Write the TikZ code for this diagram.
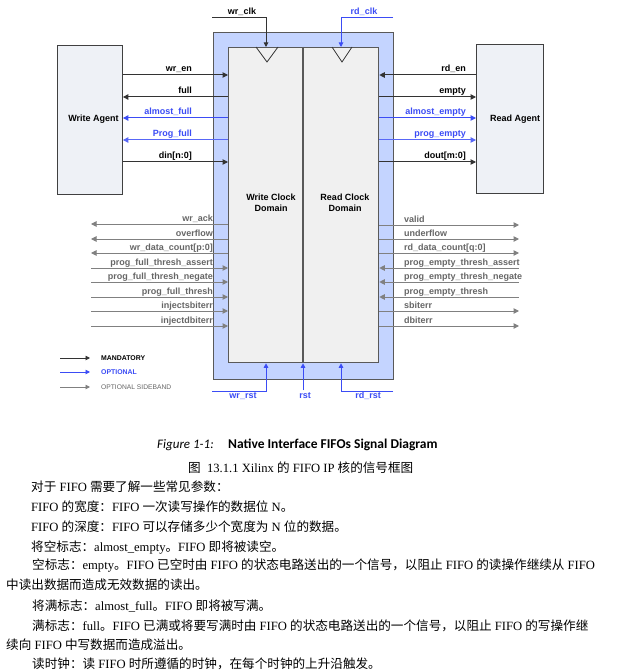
\documentclass[tikz,border=0pt]{standalone}
\usepackage{fontspec}
\setmainfont{Liberation Serif}
\newfontfamily\cjk{Noto Sans CJK SC}
\newfontfamily\arialf{Liberation Sans}
\newfontfamily\calib{Carlito}
\usetikzlibrary{arrows.meta}
\definecolor{blk}{HTML}{333333}
\definecolor{blu}{HTML}{3B4CF5}
\definecolor{gry}{HTML}{808080}
\definecolor{gtxt}{HTML}{666666}
\definecolor{obfill}{HTML}{C4D4FF}
\definecolor{ibfill}{HTML}{F0F0F0}
\definecolor{agfill}{HTML}{EEF1F6}
\newcommand\zh[1]{{\cjk #1}}
\begin{document}
\begin{tikzpicture}[x=1pt,y=-1pt,
  lab/.style={font=\arialf\bfseries\fontsize{9}{11}\selectfont, inner sep=0pt},
  leg/.style={font=\arialf\fontsize{6.7}{8}\selectfont, inner sep=0pt, anchor=west},
  body/.style={font=\fontsize{12.6}{15}\selectfont, inner sep=0pt, anchor=base west},
  sigR/.style={line width=1pt,-{Triangle[length=5.5pt,width=5.5pt]}},
  sigL/.style={line width=1pt,{Triangle[length=5.5pt,width=5.5pt]}-},
  tip/.style={line width=0.9pt,-{Triangle[length=4.5pt,width=4.5pt]}}
]
\useasboundingbox[fill=white] (0,0) rectangle (626,671);

% main boxes
\node[draw=black!65, fill=obfill, line width=0.8pt, minimum width=180pt, minimum height=347pt, anchor=north west, inner sep=0pt] (ob) at (213,32) {};
\node[draw=black!65, fill=ibfill, line width=1.3pt, minimum width=150pt, minimum height=315pt, anchor=north west, inner sep=0pt] (ib) at (228,47) {};
\coordinate (divT) at (303,47);
\coordinate (divB) at (303,362);
\draw[black!65, line width=1.2pt] (divT) -- (divB);
\draw[black!80, line width=0.8pt] (256,47) -- (267,62) -- (278,47);
\draw[black!80, line width=0.8pt] (332,47) -- (342,62) -- (352,47);
\node[lab, align=center] (wdom) at (271,203) {Write Clock\\Domain};
\node[lab, align=center] (rdom) at (345,203) {Read Clock\\Domain};

% agents
\node[draw=black!75, fill=agfill, line width=0.9pt, minimum width=65pt, minimum height=149pt, anchor=north west, inner sep=0pt] (wa) at (57,45) {};
\node[lab] (walab) at (93.5,119) {Write Agent};
\node[draw=black!75, fill=agfill, line width=0.9pt, minimum width=67pt, minimum height=149pt, anchor=north west, inner sep=0pt] (ra) at (476,44) {};
\node[lab] (ralab) at (515,119) {Read Agent};

% top left signals
\foreach \y/\t/\c/\tc/\d [count=\i] in {
  75/wr\_en/blk/black/sigR,
  97/full/blk/black/sigL,
  118/almost\_full/blu/blu/sigL,
  140/Prog\_full/blu!85/blu/sigL,
  162/din[n:0]/blk/black/sigR}{
  \coordinate (LY\i) at (0,\y);
  \draw[\d,\c] (wa.east |- LY\i) -- (ib.west |- LY\i);
  \node[lab, text=\tc, anchor=base east] (LT\i) at (192,\y-3.5) {\t};
}
% top right signals
\foreach \y/\t/\c/\tc/\d [count=\i] in {
  75/rd\_en/blk/black/sigL,
  97/empty/blk/black/sigR,
  118/almost\_empty/blu/blu/sigR,
  140/prog\_empty/blu!85/blu/sigR,
  162/dout[m:0]/blk/black/sigR}{
  \coordinate (RY\i) at (0,\y);
  \draw[\d,\c] (ib.east |- RY\i) -- (ra.west |- RY\i);
  \node[lab, text=\tc, anchor=base east] (RT\i) at (466,\y-3.5) {\t};
}
% bottom left sideband signals
\foreach \y/\t/\d [count=\i] in {
  224/wr\_ack/sigL,
  239/overflow/sigL,
  253/wr\_data\_count[p:0]/sigL,
  268/prog\_full\_thresh\_assert/sigR,
  282/prog\_full\_thresh\_negate/sigR,
  297/prog\_full\_thresh/sigR,
  311/injectsbiterr/sigR,
  326/injectdbiterr/sigR}{
  \coordinate (BL\i) at (91,\y);
  \draw[\d,gry] (BL\i) -- (ib.west |- BL\i);
  \node[lab, text=gtxt, anchor=base east] (BLT\i) at (213,\y-3) {\t};
}
% bottom right sideband signals
\foreach \y/\t/\d [count=\i] in {
  225/valid/sigR,
  239/underflow/sigR,
  253/rd\_data\_count[q:0]/sigR,
  268/prog\_empty\_thresh\_assert/sigL,
  282/prog\_empty\_thresh\_negate/sigL,
  297/prog\_empty\_thresh/sigL,
  311/sbiterr/sigR,
  326/dbiterr/sigR}{
  \coordinate (BR\i) at (519,\y);
  \draw[\d,gry] (ib.east |- BR\i) -- (BR\i);
  \node[lab, text=gtxt, anchor=base west] (BRT\i) at (404,\y-3) {\t};
}

% clocks
\coordinate (wck0) at (212,17);
\coordinate (wck1) at (266,17);
\draw[tip, blk] (wck0) -- (wck1) -- (wck1 |- ib.north);
\node[lab] (wcklab) at (242,12) {wr\_clk};
\coordinate (rck0) at (393,17);
\coordinate (rck1) at (341,17);
\draw[tip, blu] (rck0) -- (rck1) -- (rck1 |- ib.north);
\node[lab, text=blu] (rcklab) at (364,12) {rd\_clk};

% resets
\coordinate (wrs0) at (212,391);
\coordinate (wrs1) at (266,391);
\draw[tip, blu] (wrs0) -- (wrs1) -- (wrs1 |- ib.south);
\node[lab, text=blu] (wrslab) at (243,396) {wr\_rst};
\coordinate (rst0) at (303,390);
\draw[tip, blu] (rst0) -- (rst0 |- ib.south);
\node[lab, text=blu] (rstlab) at (305,396) {rst};
\coordinate (rrs0) at (393,391);
\coordinate (rrs1) at (341,391);
\draw[tip, blu] (rrs0) -- (rrs1) -- (rrs1 |- ib.south);
\node[lab, text=blu] (rrslab) at (368,396) {rd\_rst};

% legend
\node[leg, font=\arialf\bfseries\fontsize{6.9}{8}\selectfont] (lg1) at (101,358) {MANDATORY};
\node[leg, font=\arialf\bfseries\fontsize{6.9}{8}\selectfont, text=blu] (lg2) at (101,372) {OPTIONAL};
\node[leg, text=gtxt] (lg3) at (101,387) {OPTIONAL SIDEBAND};
\coordinate (lgs1) at (60,358);
\coordinate (lge1) at (90,358);
\coordinate (lgs2) at (60,372);
\coordinate (lge2) at (90,372);
\coordinate (lgs3) at (60,387);
\coordinate (lge3) at (90,387);
\draw[tip, blk] (lgs1) -- (lge1);
\draw[tip, blu] (lgs2) -- (lge2);
\draw[tip, gry] (lgs3) -- (lge3);

% captions
\node[inner sep=0pt, anchor=base west, font=\calib\itshape\fontsize{13}{15}\selectfont] (cap1) at (157,448) {Figure 1-1:};
\node[inner sep=0pt, anchor=base west, font=\calib\bfseries\fontsize{13.5}{15}\selectfont] (cap2) at (228,448) {Native Interface FIFOs Signal Diagram};
\node[body] (cap3) at (188,472) {\zh{图}\ \ 13.1.1 Xilinx \zh{的} FIFO IP \zh{核的信号框图}};

% body text
\node[body] (t1) at (31,491.5) {\zh{对于} FIFO \zh{需要了解一些常见参数：}};
\node[body] (t2) at (31,511.5) {FIFO \zh{的宽度：}FIFO \zh{一次读写操作的数据位} N\zh{。}};
\node[body] (t3) at (31,531.5) {FIFO \zh{的深度：}FIFO \zh{可以存储多少个宽度为} N \zh{位的数据。}};
\node[body] (t4) at (31,551.5) {\zh{将空标志：}almost\_empty\zh{。}FIFO \zh{即将被读空。}};
\node[body] (t5) at (32,569.5) {\zh{空标志：}empty\zh{。}FIFO \zh{已空时由} FIFO \zh{的状态电路送出的一个信号，以阻止} FIFO \zh{的读操作继续从} FIFO};
\node[body] (t6) at (6,589.5) {\zh{中读出数据而造成无效数据的读出。}};
\node[body] (t7) at (32,610.5) {\zh{将满标志：}almost\_full\zh{。}FIFO \zh{即将被写满。}};
\node[body] (t8) at (32,630.5) {\zh{满标志：}full\zh{。}FIFO \zh{已满或将要写满时由} FIFO \zh{的状态电路送出的一个信号，以阻止} FIFO \zh{的写操作继}};
\node[body] (t9) at (6,649.5) {\zh{续向} FIFO \zh{中写数据而造成溢出。}};
\node[body] (t10) at (32,668.5) {\zh{读时钟：读} FIFO \zh{时所遵循的时钟，在每个时钟的上升沿触发。}};
\end{tikzpicture}
\end{document}
